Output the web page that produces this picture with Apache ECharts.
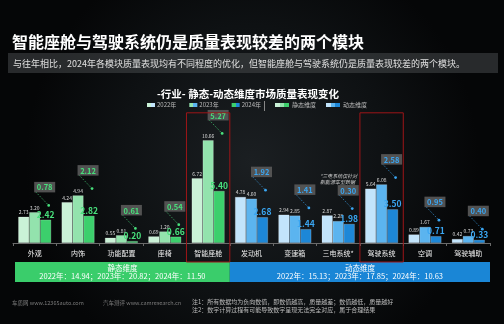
<!DOCTYPE html>
<html><head><meta charset="utf-8">
<script src="https://cdn.jsdelivr.net/npm/echarts@6/dist/echarts.min.js"></script>
<style>html,body{margin:0;padding:0;background:#07090a}#c{width:504px;height:324px}</style>
</head><body><div id="c"></div>
<script>
const categories = ['外观','内饰','功能配置','座椅','智能座舱','发动机','变速箱','三电系统*','驾驶系统','空调','驾驶辅助'];
const years = ['2022年','2023年','2024年'];
const v2022 = [2.73,4.24,0.55,0.69,6.72,4.78,2.94,2.87,5.64,0.89,0.42];
const v2023 = [3.20,4.94,0.81,1.20,10.66,4.60,2.85,2.28,6.08,1.67,0.73];
const v2024 = [2.42,2.82,0.20,0.66,5.40,2.68,1.44,1.98,3.50,0.71,0.33];
const improvement = [0.78,2.12,0.61,0.54,5.27,1.92,1.41,0.30,2.58,0.95,0.40];
const staticCount = 5;
const dimensions = ['静态维度','动态维度'];
const staticTotals = [14.94,20.82,11.50];
const dynamicTotals = [15.13,17.85,10.63];
const highlighted = ['智能座舱','驾驶系统'];

const FONT = '"Noto Sans CJK SC","Noto Sans",sans-serif';
const staticColors = ['#caf2d7','#93e3ad','#3ccf6c'];
const dynamicColors = ['#c2e4fb','#5bb4ef','#1d87d7'];
const greenText = '#48e07c', blueText = '#3aa6f2';

const chart = echarts.init(document.getElementById('c'), null, {renderer:'canvas'});
const seriesVals = [v2022, v2023, v2024];

function twoTone(a, b){
  return new echarts.graphic.LinearGradient(0,0,1,0,[{offset:0,color:a},{offset:0.5,color:a},{offset:0.5,color:b},{offset:1,color:b}]);
}
function threeTone(c){
  return new echarts.graphic.LinearGradient(0,0,1,0,[{offset:0,color:c[0]},{offset:0.33,color:c[0]},{offset:0.33,color:c[1]},{offset:0.66,color:c[1]},{offset:0.66,color:c[2]},{offset:1,color:c[2]}]);
}

const barSeries = years.map((y, k) => ({
  name: y, type: 'bar', barWidth: 11, barGap: '0%',
  data: seriesVals[k].map((v, i) => {
    const isStatic = i < staticCount;
    return {
      value: v,
      itemStyle: { color: isStatic ? staticColors[k] : dynamicColors[k],
        borderColor: 'rgba(255,255,255,0.35)', borderWidth: 0.6 },
      label: k === 2 ? { color: isStatic ? greenText : blueText } : {}
    };
  }),
  label: k === 2
    ? { show: true, position: 'top', distance: 1, fontSize: 8.5, fontWeight: 'bold', fontFamily: FONT, formatter: p => p.value.toFixed(2) }
    : { show: true, position: 'top', distance: 2, fontSize: 5, color: '#d8d8d8', fontFamily: FONT, formatter: p => p.value.toFixed(2) }
}));

const annotationSeries = {
  type: 'custom', name: 'annot', clip: false, silent: true, z: 10,
  data: categories.map((c, i) => [i, improvement[i], Math.max(v2022[i], v2023[i], v2024[i])]),
  renderItem: (params, api) => {
    const i = api.value(0);
    const p = api.coord([i, api.value(2)]);
    const cx = p[0] + 10, cy = p[1] - 25, w = 21, h = 10.5;
    const col = i < staticCount ? greenText : blueText;
    const ex = cx + 4, ey = cy + h / 2 + 13;
    return { type: 'group', children: [
      { type: 'rect', shape: { x: cx - w / 2, y: cy - h / 2, width: w, height: h }, style: { fill: 'rgba(88,88,88,0.92)' } },
      { type: 'text', x: cx, y: cy + 0.5, style: { text: api.value(1).toFixed(2), fill: col, font: 'bold 7.5px ' + FONT, align: 'center', verticalAlign: 'middle', textAlign: 'center', textVerticalAlign: 'middle' } },
      { type: 'line', shape: { x1: cx - w / 2 + 2, y1: cy + h / 2, x2: ex, y2: ey }, style: { stroke: col, lineWidth: 0.8, lineDash: [1, 1.5] } },
      { type: 'circle', shape: { cx: ex, cy: ey, r: 1.4 }, style: { fill: col } }
    ]};
  }
};

const highlightSeries = {
  type: 'custom', name: 'hl', clip: false, silent: true, z: 11,
  data: highlighted.map(n => [categories.indexOf(n), 0]),
  renderItem: (params, api) => {
    const i = api.value(0);
    const top = api.coord([i, 13.5]);
    const base = api.coord([i, 0]);
    const bw = api.size([1, 0])[0];
    return { type: 'rect', shape: { x: top[0] - bw / 2, y: top[1], width: bw, height: base[1] + 19 - top[1] },
      style: { fill: 'none', stroke: '#9e1518', lineWidth: 1 } };
  }
};

function bandSeries(k) {
  const totals = k === 0 ? staticTotals : dynamicTotals;
  const range = k === 0 ? [0, staticCount - 1] : [staticCount, categories.length - 1];
  const fill = k === 0 ? '#3acd6b' : '#1a86d6';
  return {
    type: 'custom', name: dimensions[k], clip: false, silent: true, z: 5,
    itemStyle: { color: fill },
    data: [[range[0], 0, range[1]]],
    renderItem: (params, api) => {
      const a = api.coord([api.value(0), 0]);
      const b = api.coord([api.value(2), 0]);
      const bw = api.size([1, 0])[0];
      const x0 = a[0] - bw / 2 + (k === 0 ? 2 : 0), x1 = b[0] + bw / 2;
      const y0 = a[1] + 19;
      const line2 = years.map((y, j) => y + '：' + totals[j].toFixed(2)).join('；');
      return { type: 'group', children: [
        { type: 'rect', shape: { x: x0, y: y0, width: x1 - x0, height: 20 }, style: { fill: fill } },
        { type: 'text', x: (x0 + x1) / 2, y: y0 + 6, style: { text: dimensions[k], fill: '#fff', font: '7.5px ' + FONT, align: 'center', verticalAlign: 'middle', textAlign: 'center', textVerticalAlign: 'middle' } },
        { type: 'text', x: (x0 + x1) / 2, y: y0 + 14.5, style: { text: line2, fill: '#fff', font: '7.5px ' + FONT, align: 'center', verticalAlign: 'middle', textAlign: 'center', textVerticalAlign: 'middle' } }
      ]};
    }
  };
}

const option = {
  backgroundColor: new echarts.graphic.RadialGradient(0.5, 0.5, 0.7, [{offset:0,color:'#1b1f22'},{offset:0.6,color:'#0e1113'},{offset:1,color:'#050607'}]),
  animation: false,
  textStyle: { fontFamily: FONT },
  grid: { left: 13, right: 14, top: 108, bottom: 81 },
  legend: [
    { data: years.map((y, k) => ({ name: y, icon: 'rect', itemStyle: { color: twoTone(staticColors[k], dynamicColors[k]) } })),
      left: 147, top: 102, padding: 0, itemWidth: 8, itemHeight: 4, itemGap: 13, selectedMode: false,
      textStyle: { color: '#bbb', fontSize: 6, fontFamily: FONT, padding: [0, 0, 0, -3] } },
    { data: dimensions.map((d, k) => ({ name: d, icon: 'rect', itemStyle: { color: threeTone(k === 0 ? staticColors : dynamicColors) } })),
      left: 275, top: 102, padding: 0, itemWidth: 14, itemHeight: 4, itemGap: 10, selectedMode: false,
      textStyle: { color: '#bbb', fontSize: 6, fontFamily: FONT, padding: [0, 0, 0, -2] } }
  ],
  xAxis: {
    type: 'category', data: categories,
    axisLine: { lineStyle: { color: '#6a6a6a', width: 1 } },
    axisTick: { show: true, alignWithLabel: false, length: 3, lineStyle: { color: '#6a6a6a' } },
    axisLabel: { color: '#eeeeee', fontSize: 7, margin: 7, interval: 0, fontFamily: FONT }
  },
  yAxis: { type: 'value', min: 0, max: 14, show: false, splitLine: { show: false } },
  series: [...barSeries, annotationSeries, highlightSeries, bandSeries(0), bandSeries(1)],
  graphic: [
    { type: 'text', x: 12, y: 42, style: { text: '智能座舱与驾驶系统仍是质量表现较差的两个模块', fill: '#ffffff', font: 'bold 16px ' + FONT, verticalAlign: 'middle', textVerticalAlign: 'middle' } },
    { type: 'rect', shape: { x: 8, y: 53, width: 490, height: 20 }, style: { fill: 'rgba(70,72,74,0.55)' } },
    { type: 'text', x: 13, y: 63.5, style: { text: '与往年相比，2024年各模块质量表现均有不同程度的优化，但智能座舱与驾驶系统仍是质量表现较差的两个模块。', fill: '#e0e0e0', font: '9px ' + FONT, verticalAlign: 'middle', textVerticalAlign: 'middle' } },
    { type: 'text', x: 248, y: 94, style: { text: '-行业- 静态-动态维度市场质量表现变化', fill: '#ffffff', font: 'bold 10.5px ' + FONT, align: 'center', textAlign: 'center', verticalAlign: 'middle', textVerticalAlign: 'middle' } },
    { type: 'line', shape: { x1: 264.5, y1: 101, x2: 264.5, y2: 111 }, style: { stroke: '#888', lineWidth: 1 } },
    { type: 'text', x: 320, y: 173, style: { text: '*三电系统仅针对\n新能源车型数据', fill: '#cfcfcf', font: 'italic 5px ' + FONT, lineHeight: 6 } },
    { type: 'text', x: 12, y: 302.5, style: { text: '车质网 www.12365auto.com', fill: '#7a7a7a', font: '5.5px ' + FONT, verticalAlign: 'middle', textVerticalAlign: 'middle' } },
    { type: 'text', x: 103, y: 302.5, style: { text: '汽车测评 www.camresearch.cn', fill: '#7a7a7a', font: '5.5px ' + FONT, verticalAlign: 'middle', textVerticalAlign: 'middle' } },
    { type: 'text', x: 192, y: 301.5, style: { text: '注1：所有数据均为负向数值，即数值越高，质量越差；数值越低，质量越好', fill: '#bdbdbd', font: '6px ' + FONT, verticalAlign: 'middle', textVerticalAlign: 'middle' } },
    { type: 'text', x: 192, y: 309.5, style: { text: '注2：数字计算过程有可能导致数字呈现无法完全对应，属于合理结果', fill: '#bdbdbd', font: '6px ' + FONT, verticalAlign: 'middle', textVerticalAlign: 'middle' } }
  ]
};
chart.setOption(option);
</script>
</body></html>
